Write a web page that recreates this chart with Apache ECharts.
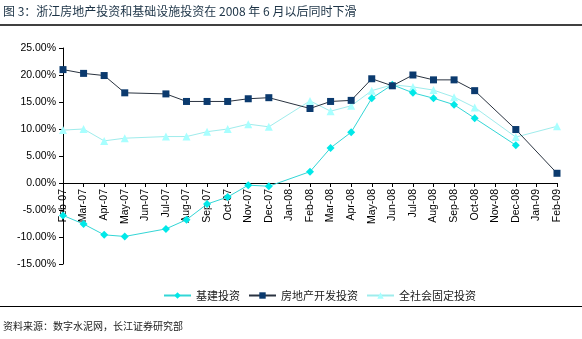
<!DOCTYPE html>
<html>
<head>
<meta charset="utf-8">
<script src="https://cdn.jsdelivr.net/npm/echarts@6/dist/echarts.min.js"></script>
<style>html,body{margin:0;padding:0;background:#fff;}#c{width:582px;height:339px;}</style>
</head>
<body>
<div id="c"></div>
<script>
var categories = ['Feb-07','Mar-07','Apr-07','May-07','Jun-07','Jul-07','Aug-07','Sep-07','Oct-07','Nov-07','Dec-07','Jan-08','Feb-08','Mar-08','Apr-08','May-08','Jun-08','Jul-08','Aug-08','Sep-08','Oct-08','Nov-08','Dec-08','Jan-09','Feb-09'];
var jijian = [-6.0,-7.6,-9.6,-9.9,'-',-8.5,-6.8,-3.9,-2.6,-0.4,-0.6,'-',2.1,6.5,9.4,15.7,18.2,16.7,15.7,14.5,12.0,'-',7.0,'-','-'];
var fangdichan = [21.0,20.3,19.9,16.7,'-',16.5,15.1,15.1,15.1,15.6,15.8,'-',13.8,15.1,15.3,19.3,18.0,20.0,19.1,19.1,17.1,'-',9.9,'-',1.8];
var quanshehui = [9.8,10.0,7.8,8.3,'-',8.6,8.6,9.5,10.0,10.9,10.4,'-',15.2,13.3,14.3,17.1,18.2,17.8,17.2,15.9,14.0,'-',8.5,'-',10.5];
var yTicks = {min:-15, max:25, interval:5};
var names = ['基建投资','房地产开发投资','全社会固定投资'];

var gridTop = 48, gridH = 216; // 0% lands at gridTop + gridH*25/40
var chart = echarts.init(document.getElementById('c'));
var cjk = '"Noto Sans CJK SC", sans-serif';
chart.setOption({
  animation:false,
  backgroundColor:'#fff',
  grid:{left:63,right:25,top:gridTop,height:gridH,containLabel:false},
  legend:{
    data:names, left:158, top:285, itemWidth:27, itemHeight:8, itemGap:8,
    textStyle:{fontFamily:cjk,fontSize:11,color:'#222'}
  },
  xAxis:{
    type:'category', data:categories, boundaryGap:false,
    axisLine:{onZero:false,lineStyle:{color:'#000',width:1}},
    offset:-(gridH*15/40),
    axisTick:{show:true,alignWithLabel:true,lineStyle:{color:'#000'},length:4},
    axisLabel:{rotate:90,interval:0,fontFamily:'Arial, "Liberation Sans", sans-serif',fontSize:10.5,color:'#000',margin:6},
    splitLine:{show:false}
  },
  yAxis:{
    type:'value', min:yTicks.min, max:yTicks.max, interval:yTicks.interval,
    axisLine:{show:true,lineStyle:{color:'#000',width:1}},
    axisTick:{show:true,lineStyle:{color:'#000'},length:4},
    axisLabel:{formatter:function(v){return v.toFixed(2)+'%';},fontFamily:'Arial, "Liberation Sans", sans-serif',fontSize:10.5,color:'#000',margin:7},
    splitLine:{show:false}
  },
  series:[
    {name:names[0],type:'line',data:jijian,connectNulls:true,symbol:'diamond',symbolSize:8,
     lineStyle:{color:'#33D6D6',width:1},itemStyle:{color:'#00E8E8'},z:3},
    {name:names[1],type:'line',data:fangdichan,connectNulls:true,symbol:'rect',symbolSize:7,
     lineStyle:{color:'#2a3340',width:1},itemStyle:{color:'#0B3A6E'},z:4},
    {name:names[2],type:'line',data:quanshehui,connectNulls:true,symbol:'triangle',symbolSize:8,
     lineStyle:{color:'#9FECEC',width:1},itemStyle:{color:'#A8FFFF'},z:2}
  ],
  graphic:[
    {type:'text',left:3,top:5,style:{text:'图 3：浙江房地产投资和基础设施投资在 2008 年 6 月以后同时下滑',fontFamily:cjk,fontSize:12,fill:'#1c3346'}},
    {type:'line',shape:{x1:0,y1:25,x2:582,y2:25},style:{stroke:'#000',lineWidth:1.5}},
    {type:'line',shape:{x1:0,y1:306.5,x2:582,y2:306.5},style:{stroke:'#000',lineWidth:1}},
    {type:'text',left:3,top:321,style:{text:'资料来源：数字水泥网，长江证券研究部',fontFamily:cjk,fontSize:10,fill:'#222'}}
  ]
});
</script>
</body>
</html>
